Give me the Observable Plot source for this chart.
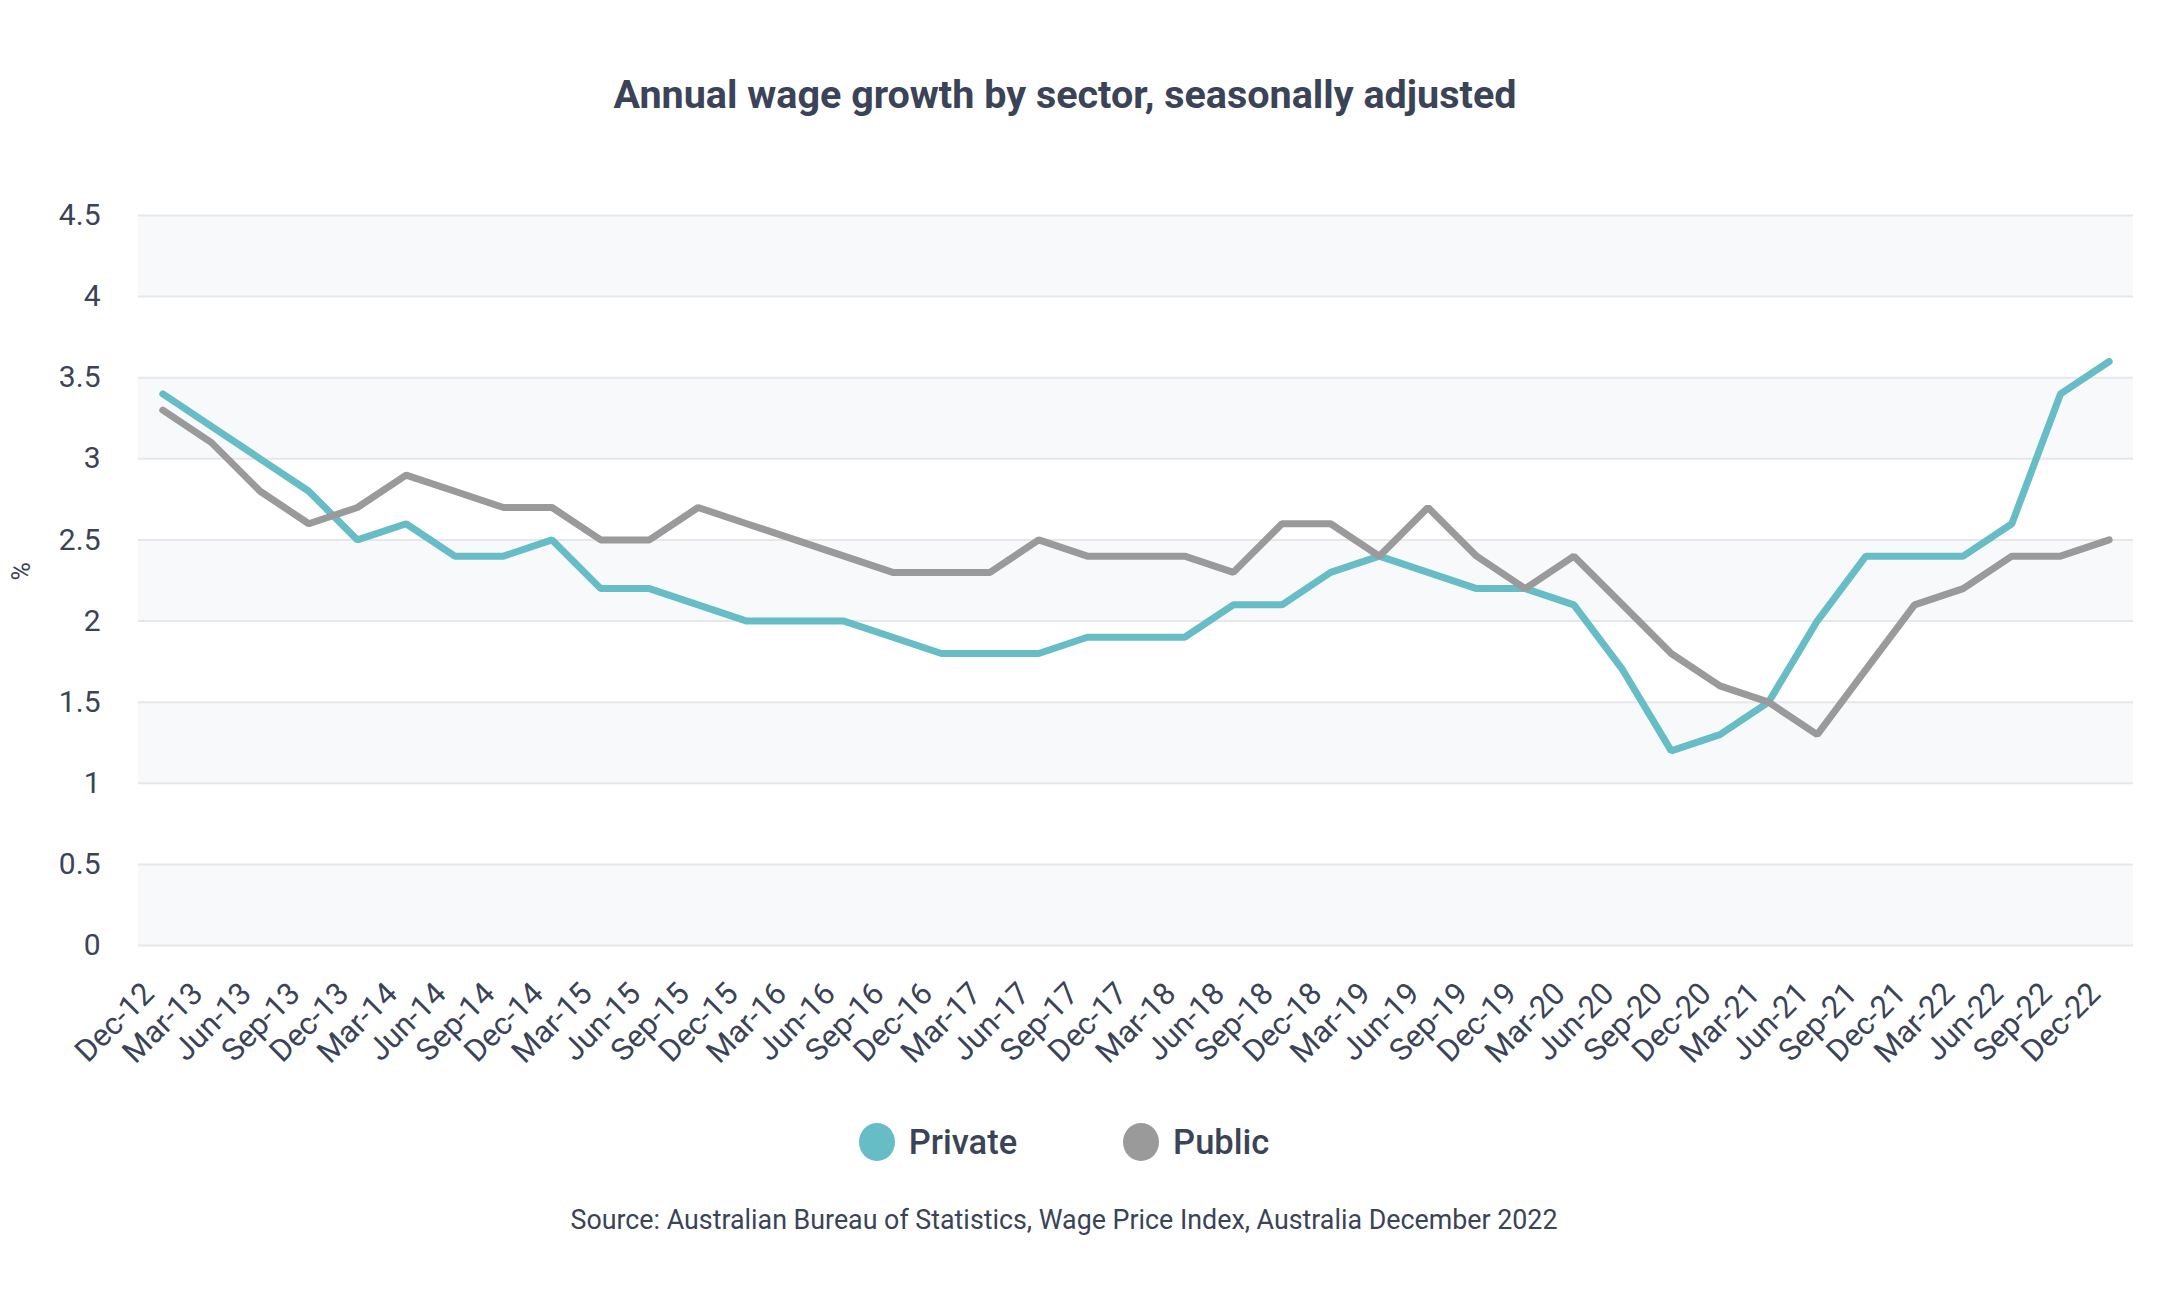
<!DOCTYPE html>
<html>
<head>
<meta charset="utf-8">
<script src="https://cdn.jsdelivr.net/npm/d3@7"></script>
<script src="https://cdn.jsdelivr.net/npm/@observablehq/plot@0.6"></script>
<style>
  html, body { margin: 0; padding: 0; background: #ffffff; }
  body { width: 2168px; height: 1312px; position: relative; font-family: Roboto, "Noto Sans", sans-serif; color: #3a4357; overflow: hidden; }
  #title { position: absolute; top: 71px; left: 0; width: 2130px; text-align: center; font-size: 39.5px; font-weight: 700; color: #3a4357; }
  #chart { position: absolute; top: 0; left: 0; }
  #legend { position: absolute; top: 1122px; left: 0; width: 2128px; display: flex; justify-content: center; font-size: 34.5px; font-weight: 500; color: #3a4357; }
  .item { display: flex; align-items: center; margin: 0 53px; }
  .dot { width: 36px; height: 38px; border-radius: 50%; margin-right: 14px; }
  #source { position: absolute; top: 1204px; left: 0; width: 2128px; text-align: center; font-size: 26.8px; color: #3a4357; }
</style>
</head>
<body>
<div id="title">Annual wage growth by sector, seasonally adjusted</div>
<div id="chart"></div>
<div id="legend"></div>
<div id="source">Source: Australian Bureau of Statistics, Wage Price Index, Australia December 2022</div>
<script>
const quarters = ["Dec-12","Mar-13","Jun-13","Sep-13","Dec-13","Mar-14","Jun-14","Sep-14","Dec-14","Mar-15","Jun-15","Sep-15","Dec-15","Mar-16","Jun-16","Sep-16","Dec-16","Mar-17","Jun-17","Sep-17","Dec-17","Mar-18","Jun-18","Sep-18","Dec-18","Mar-19","Jun-19","Sep-19","Dec-19","Mar-20","Jun-20","Sep-20","Dec-20","Mar-21","Jun-21","Sep-21","Dec-21","Mar-22","Jun-22","Sep-22","Dec-22"];
const privateWages = [3.4,3.2,3.0,2.8,2.5,2.6,2.4,2.4,2.5,2.2,2.2,2.1,2.0,2.0,2.0,1.9,1.8,1.8,1.8,1.9,1.9,1.9,2.1,2.1,2.3,2.4,2.3,2.2,2.2,2.1,1.7,1.2,1.3,1.5,2.0,2.4,2.4,2.4,2.6,3.4,3.6];
const publicWages  = [3.3,3.1,2.8,2.6,2.7,2.9,2.8,2.7,2.7,2.5,2.5,2.7,2.6,2.5,2.4,2.3,2.3,2.3,2.5,2.4,2.4,2.4,2.3,2.6,2.6,2.4,2.7,2.4,2.2,2.4,2.1,1.8,1.6,1.5,1.3,1.7,2.1,2.2,2.4,2.4,2.5];
const yTicks = [0,0.5,1,1.5,2,2.5,3,3.5,4,4.5];
const seriesNames = ["Private","Public"];
const seriesColors = ["#66bdc6","#9a9a9a"];

const rows = [];
quarters.forEach((q, i) => {
  rows.push({quarter: q, sector: "Private", value: privateWages[i]});
  rows.push({quarter: q, sector: "Public", value: publicWages[i]});
});
const bands = yTicks.filter((t, i) => i % 2 === 0 && i < yTicks.length - 1).map(t => ({y1: t, y2: t + 0.5}));

const plot = Plot.plot({
  width: 2168,
  height: 1095,
  marginLeft: 138,
  marginRight: 35,
  marginTop: 215,
  marginBottom: 150,
  style: {fontFamily: "Roboto, sans-serif", color: "#3a4357", background: "transparent"},
  x: {type: "point", domain: quarters, padding: 0.5, round: false, label: null},
  y: {domain: [0, 4.5], ticks: yTicks, label: null},
  color: {domain: seriesNames, range: seriesColors},
  marks: [
    Plot.rect(bands, {y1: "y1", y2: "y2", fill: "#f8f9fb"}),
    Plot.ruleY(yTicks, {stroke: "#e6e7ea", strokeWidth: 2}),
    Plot.axisY({ticks: yTicks, tickSize: 0, tickPadding: 38, fontSize: 30, tickFormat: d => String(d), label: null}),
    Plot.axisX({tickSize: 0, tickRotate: -45, tickPadding: 43, dx: -14, fontSize: 31, label: null}),
    Plot.text(["%"], {frameAnchor: "left", dx: -117, rotate: -90, fontSize: 25, fill: "#3a4357"}),
    Plot.line(rows, {x: "quarter", y: "value", z: "sector", stroke: "sector", strokeWidth: 7, strokeLinejoin: "miter"})
  ]
});
document.getElementById("chart").appendChild(plot);

const legend = document.getElementById("legend");
seriesNames.forEach((name, i) => {
  const item = document.createElement("div");
  item.className = "item";
  const dot = document.createElement("span");
  dot.className = "dot";
  dot.style.background = seriesColors[i];
  const label = document.createElement("span");
  label.textContent = name;
  item.appendChild(dot);
  item.appendChild(label);
  legend.appendChild(item);
});
</script>
</body>
</html>
